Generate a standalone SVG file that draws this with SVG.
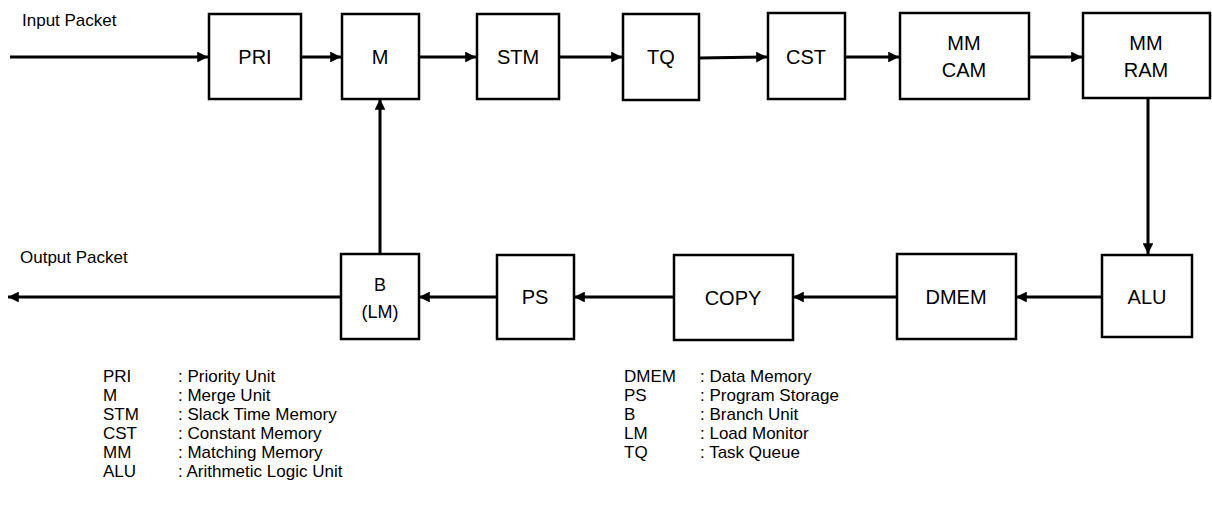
<svg xmlns="http://www.w3.org/2000/svg" width="1212" height="518" viewBox="0 0 1212 518">
  <style>
    .box { fill: #ffffff; stroke: #000000; stroke-width: 2.5; }
    .lbl { font-family: "Liberation Sans", Arial, sans-serif; font-size: 20px; fill: #000000; text-anchor: middle; }
    .cap { font-family: "Liberation Sans", Arial, sans-serif; font-size: 17px; fill: #000000; }
    .leg { font-family: "Liberation Sans", Arial, sans-serif; font-size: 17px; fill: #000000; }
    .wire { stroke: #000000; stroke-width: 3; fill: none; marker-end: url(#head); }
  </style>
  <defs>
    <marker id="head" viewBox="0 0 10 10" refX="10" refY="5" markerWidth="3.6" markerHeight="3.6" orient="auto" markerUnits="strokeWidth">
      <path d="M0,0 L10,5 L0,10 z" fill="#000000"/>
    </marker>
  </defs>

  <rect width="1212" height="518" fill="#ffffff"/>

  <g id="connectors">
    <line class="wire" x1="10" y1="57" x2="208" y2="57"/>
    <line class="wire" x1="301" y1="57" x2="341" y2="57"/>
    <line class="wire" x1="419" y1="57" x2="476" y2="57"/>
    <line class="wire" x1="559" y1="57" x2="622" y2="57"/>
    <line class="wire" x1="699" y1="58" x2="767" y2="57"/>
    <line class="wire" x1="845" y1="57" x2="899" y2="57"/>
    <line class="wire" x1="1029" y1="57" x2="1082" y2="57"/>
    <line class="wire" x1="1148" y1="98" x2="1148" y2="254"/>
    <line class="wire" x1="1102" y1="297" x2="1016" y2="297"/>
    <line class="wire" x1="897" y1="297" x2="793" y2="297"/>
    <line class="wire" x1="674" y1="297" x2="574" y2="297"/>
    <line class="wire" x1="497" y1="297" x2="419" y2="297"/>
    <line class="wire" x1="341" y1="297" x2="8" y2="297"/>
    <line class="wire" x1="380" y1="254" x2="380" y2="99"/>
  </g>

  <text class="cap" x="22" y="26">Input  Packet</text>
  <text class="cap" x="20" y="263">Output  Packet</text>

  <g id="node-pri">
    <rect class="box" x="209" y="14" width="92" height="85"/>
    <text class="lbl" x="255" y="64">PRI</text>
  </g>
  <g id="node-m">
    <rect class="box" x="342" y="14" width="77" height="85"/>
    <text class="lbl" x="380" y="64">M</text>
  </g>
  <g id="node-stm">
    <rect class="box" x="477" y="14" width="82" height="85"/>
    <text class="lbl" x="518" y="64">STM</text>
  </g>
  <g id="node-tq">
    <rect class="box" x="623" y="14" width="76" height="86"/>
    <text class="lbl" x="661" y="64">TQ</text>
  </g>
  <g id="node-cst">
    <rect class="box" x="768" y="13" width="77" height="86"/>
    <text class="lbl" x="806" y="64">CST</text>
  </g>
  <g id="node-mm-cam">
    <rect class="box" x="900" y="13" width="129" height="86"/>
    <text class="lbl" x="964" y="50">MM</text>
    <text class="lbl" x="964" y="77">CAM</text>
  </g>
  <g id="node-mm-ram">
    <rect class="box" x="1083" y="13" width="127" height="85"/>
    <text class="lbl" x="1146" y="50">MM</text>
    <text class="lbl" x="1146" y="77">RAM</text>
  </g>
  <g id="node-alu">
    <rect class="box" x="1102" y="255" width="90" height="82"/>
    <text class="lbl" x="1147" y="304">ALU</text>
  </g>
  <g id="node-dmem">
    <rect class="box" x="897" y="254" width="119" height="85"/>
    <text class="lbl" x="956" y="304">DMEM</text>
  </g>
  <g id="node-copy">
    <rect class="box" x="674" y="255" width="119" height="85"/>
    <text class="lbl" x="733" y="305">COPY</text>
  </g>
  <g id="node-ps">
    <rect class="box" x="497" y="255" width="77" height="84"/>
    <text class="lbl" x="535" y="304">PS</text>
  </g>
  <g id="node-b">
    <rect class="box" x="341" y="254" width="78" height="85"/>
    <text class="lbl" x="380" y="291" style="font-size:18px">B</text>
    <text class="lbl" x="380" y="318" style="font-size:18px">(LM)</text>
  </g>

  <g id="legend-left" class="leg">
    <text x="103" y="382">PRI</text><text x="178" y="382">: Priority Unit</text>
    <text x="103" y="401">M</text><text x="178" y="401">: Merge Unit</text>
    <text x="103" y="420">STM</text><text x="178" y="420">: Slack Time Memory</text>
    <text x="103" y="439">CST</text><text x="178" y="439">: Constant Memory</text>
    <text x="103" y="458">MM</text><text x="178" y="458">: Matching Memory</text>
    <text x="103" y="477">ALU</text><text x="178" y="477">: Arithmetic Logic Unit</text>
  </g>
  <g id="legend-right" class="leg">
    <text x="624" y="382">DMEM</text><text x="700" y="382">: Data Memory</text>
    <text x="624" y="401">PS</text><text x="700" y="401">: Program Storage</text>
    <text x="624" y="420">B</text><text x="700" y="420">: Branch Unit</text>
    <text x="624" y="439">LM</text><text x="700" y="439">: Load Monitor</text>
    <text x="624" y="458">TQ</text><text x="700" y="458">: Task Queue</text>
  </g>
</svg>
